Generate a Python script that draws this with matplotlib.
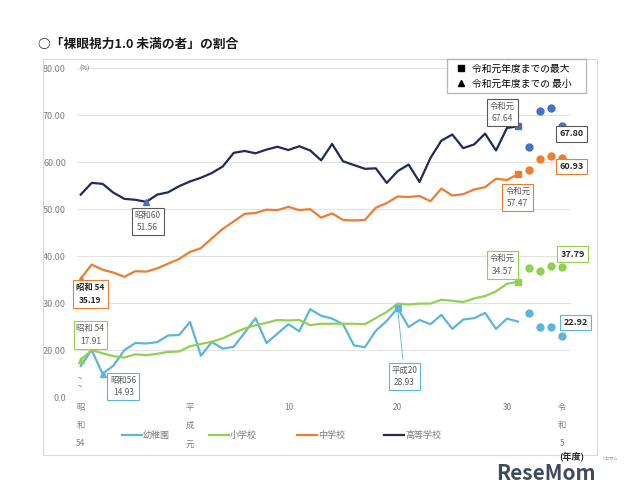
import numpy as np
import matplotlib.pyplot as plt
from matplotlib.lines import Line2D
from matplotlib.patches import Rectangle

plt.rcParams['font.family'] = ['Noto Sans CJK JP', 'DejaVu Sans']

# 年度 (昭和54 = 1979 ... 令和元 = 2019)
years = list(range(1979, 2020))
post_years = [2020, 2021, 2022, 2023]

yochien = [16.6, 20.0, 14.93, 16.7, 20.0, 21.5, 21.4, 21.7, 23.1, 23.2,
           26.0, 18.8, 21.7, 20.3, 20.7, 23.7, 26.8, 21.5, 23.5, 25.5,
           24.0, 28.7, 27.3, 26.7, 25.5, 21.0, 20.6, 24.1, 26.2, 28.93,
           24.9, 26.4, 25.5, 27.5, 24.5, 26.5, 26.8, 27.9, 24.5, 26.7,
           26.06]
shogakko = [17.91, 20.0, 19.3, 18.7, 18.4, 19.1, 18.9, 19.2, 19.6, 19.7,
            20.8, 21.3, 21.8, 22.5, 23.6, 24.6, 25.3, 25.8, 26.4, 26.3,
            26.4, 25.3, 25.6, 25.6, 25.6, 25.6, 25.5, 26.8, 28.1, 29.9,
            29.7, 29.9, 29.9, 30.7, 30.5, 30.2, 31.0, 31.5, 32.5, 34.1,
            34.57]
chugakko = [35.19, 38.2, 37.1, 36.5, 35.6, 36.8, 36.7, 37.4, 38.4, 39.4,
            40.9, 41.7, 43.8, 45.8, 47.4, 49.0, 49.2, 49.9, 49.8, 50.5,
            49.8, 50.0, 48.2, 49.1, 47.7, 47.6, 47.7, 50.3, 51.3, 52.7,
            52.6, 52.8, 51.7, 54.4, 52.9, 53.2, 54.2, 54.7, 56.5, 56.2,
            57.47]
koko = [53.1, 55.6, 55.4, 53.5, 52.2, 52.0, 51.56, 53.1, 53.6, 54.9,
        55.9, 56.7, 57.7, 59.1, 62.0, 62.4, 61.9, 62.7, 63.3, 62.6,
        63.4, 62.5, 60.4, 63.9, 60.2, 59.4, 58.6, 58.7, 55.6, 58.1,
        59.5, 55.8, 60.9, 64.6, 65.9, 63.0, 63.8, 66.1, 62.5, 67.3,
        67.64]

yochien_post = [27.90, 24.81, 24.95, 22.92]
shogakko_post = [37.52, 36.87, 37.88, 37.79]
chugakko_post = [58.29, 60.66, 61.23, 60.93]
koko_post = [63.17, 70.81, 71.56, 67.80]

series_names = ['幼稚園', '小学校', '中学校', '高等学校']
min_labels = ['昭和56', '昭和 54', '昭和 54', '昭和60']
max_labels = ['平成20', '令和元', '令和元', '令和元']

xtick_years = [1979, 1989, 1998, 2008, 2018, 2023]
xtick_labels = ['昭\n和\n54', '平\n成\n元', '10', '20', '30', '令\n和\n5']
yticks = [10, 20, 30, 40, 50, 60, 70, 80]
ytick_labels = ['0.0', '20.00', '30.00', '40.00', '50.00', '60.00', '70.00', '80.00']

line_colors = ['#5BB5DD', '#92D050', '#ED7D31', '#1F2A5E']
mark_colors = ['#5BB5DD', '#92D050', '#ED7D31', '#4472C4']
# 注記ボックスのずらし量 (pt)
min_off = [(15, -9), (7, 18), (7, -11), (1, -14)]
max_off = [(5, -49), (-11, 12), (0, -17), (-11, 10)]
last_off = [(10, 10), (8, 9), (7, -6), (7, -6)]

fig = plt.figure(figsize=(6.4, 4.98), dpi=100)
ax = fig.add_axes([0.1203, 0.2028, 0.7719, 0.66])

fig.patches.append(Rectangle((0.067, 0.086), 0.866, 0.795, transform=fig.transFigure,
                             fill=False, edgecolor='#D9D9D9', linewidth=0.8))

data = [yochien, shogakko, chugakko, koko]
post = [yochien_post, shogakko_post, chugakko_post, koko_post]
grey = '#595959'

for i in range(4):
    vals = np.array(data[i])
    ax.plot(years, vals, color=line_colors[i], lw=1.6, zorder=3)
    ax.plot(post_years, post[i], 'o', color=mark_colors[i], ms=5, zorder=4)
    imin = int(np.argmin(vals))
    imax = int(np.argmax(vals))
    ax.plot(years[imin], vals[imin], '^', color=mark_colors[i], ms=5, zorder=4)
    ax.plot(years[imax], vals[imax], 's', color=mark_colors[i], ms=4.5, zorder=4)

    bold_min = (i == 2)
    edge = line_colors[i] if i != 3 else grey
    arrow = dict(arrowstyle='-', color=line_colors[i], lw=0.6) if i == 0 else None
    ax.annotate(f'{min_labels[i]}\n{vals[imin]:.2f}', (years[imin], vals[imin]),
                xytext=min_off[i], textcoords='offset points', ha='center', va='center',
                fontsize=6, color='#262626' if bold_min else grey,
                fontweight='bold' if bold_min else 'normal', linespacing=1.5,
                bbox=dict(boxstyle='square,pad=0.35', fc='white', ec=edge, lw=0.8),
                arrowprops=arrow, annotation_clip=False, zorder=5)
    ax.annotate(f'{max_labels[i]}\n{vals[imax]:.2f}', (years[imax], vals[imax]),
                xytext=max_off[i], textcoords='offset points', ha='center', va='center',
                fontsize=6, color=grey, linespacing=1.5,
                bbox=dict(boxstyle='square,pad=0.35', fc='white', ec=edge, lw=0.8),
                arrowprops=arrow, annotation_clip=False, zorder=5)
    ax.annotate(f'{post[i][-1]:.2f}', (post_years[-1], post[i][-1]),
                xytext=last_off[i], textcoords='offset points', ha='center', va='center',
                fontsize=6.5, color='#262626', fontweight='bold',
                bbox=dict(boxstyle='square,pad=0.35', fc='white', ec=edge, lw=0.8),
                arrowprops=dict(arrowstyle='-', color='#BFBFBF', lw=0.5) if i == 0 else None,
                annotation_clip=False, zorder=5)

ax.set_xlim(1978.66, 2023.86)
ax.set_ylim(10, 80)
ax.set_yticks(yticks)
ax.set_yticklabels(ytick_labels)
ax.set_xticks(xtick_years)
ax.set_xticklabels(xtick_labels, linespacing=2.35, va='top')
ax.tick_params(axis='y', length=0, pad=8, labelsize=6.5, labelcolor='#7F7F7F')
ax.tick_params(axis='x', length=0, pad=4, labelsize=6, labelcolor='#7F7F7F')
ax.grid(axis='y', color='#E3E3E3', lw=0.8)
ax.set_axisbelow(True)
for s in ax.spines.values():
    s.set_visible(False)

ax.text(0.005, 1.0, '(%)', transform=ax.transAxes, fontsize=4.5, color=grey, va='center')
fig.text(0.122, 0.232, '~\n~', fontsize=6, color='#7F7F7F', linespacing=0.9, va='center')

fig.text(0.059, 0.912, '○「裸眼視力1.0 未満の者」の割合', fontsize=9.2, fontweight='bold',
         color='#1A1A1A', va='center')
fig.text(0.894, 0.083, '(年度)', fontsize=6.5, fontweight='bold', color='#262626', ha='center', va='center')

handles = [Line2D([], [], color=c, lw=1.6) for c in line_colors]
fig.legend(handles, series_names, loc='center', bbox_to_anchor=(0.44, 0.126), ncol=4,
           frameon=False, fontsize=6.5, labelcolor='#7F7F7F', handlelength=2.2,
           handletextpad=0.1, columnspacing=4.4)

mm = [Line2D([], [], marker='s', ls='', color='black', ms=4),
      Line2D([], [], marker='^', ls='', color='black', ms=4.5)]
fig.legend(mm, ['令和元年度までの最大\u3000', '令和元年度までの 最小\u3000'], loc='upper right',
           bbox_to_anchor=(0.916, 0.881), fontsize=7, frameon=True, fancybox=False,
           edgecolor='#A6A6A6', handletextpad=0.2, handlelength=2.0, borderpad=0.45,
           labelspacing=0.5, borderaxespad=0)

fig.text(0.775, 0.05, 'ReseMom', fontsize=15, fontweight='bold', color='#3F4B5B', va='center')
fig.text(0.965, 0.078, 'リセマム', fontsize=3, color='#7F7F7F', va='center', ha='right')

fig.savefig('out.png', dpi=100)
